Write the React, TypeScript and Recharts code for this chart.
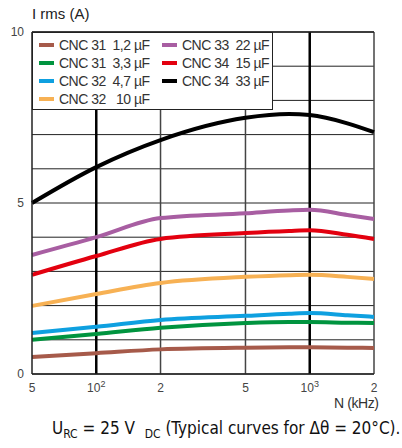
import React from "react";
import {
  LineChart,
  Line,
  XAxis,
  YAxis,
  CartesianGrid,
  ReferenceLine,
} from "recharts";

// frequency in kHz (plotted on a log axis)
const freqs = [50, 100, 200, 500, 800, 1000, 1500, 2000];

const cnc31_1u2 = [0.5, 0.61, 0.72, 0.77, 0.78, 0.78, 0.77, 0.76];
const cnc31_3u3 = [1.0, 1.17, 1.35, 1.49, 1.52, 1.52, 1.5, 1.49];
const cnc32_4u7 = [1.2, 1.38, 1.58, 1.7, 1.76, 1.78, 1.72, 1.67];
const cnc32_10u = [1.99, 2.34, 2.66, 2.84, 2.89, 2.9, 2.84, 2.78];
const cnc33_22u = [3.48, 4.0, 4.56, 4.7, 4.78, 4.8, 4.65, 4.53];
const cnc34_15u = [2.9, 3.45, 3.95, 4.12, 4.18, 4.2, 4.07, 3.95];
const cnc34_33u = [5.0, 6.05, 6.84, 7.49, 7.6, 7.57, 7.33, 7.07];

const xTicks = [50, 100, 200, 500, 1000, 2000];
const xTickLabels = ["5", "10|2", "2", "5", "10|3", "2"];
const yTicks = [0, 1, 2, 3, 4, 5, 6, 7, 8, 9, 10];
const yLabelled = [0, 5, 10];

const series = [
  { key: "a", name: "CNC 31  1,2 µF", values: cnc31_1u2, color: "#a65a4a" },
  { key: "b", name: "CNC 31  3,3 µF", values: cnc31_3u3, color: "#00943f" },
  { key: "c", name: "CNC 32  4,7 µF", values: cnc32_4u7, color: "#0ea0e0" },
  { key: "d", name: "CNC 32   10 µF", values: cnc32_10u, color: "#f7b154" },
  { key: "e", name: "CNC 33  22 µF", values: cnc33_22u, color: "#a85ea2" },
  { key: "f", name: "CNC 34  15 µF", values: cnc34_15u, color: "#e3000f" },
  { key: "g", name: "CNC 34  33 µF", values: cnc34_33u, color: "#000000" },
];

const lg = (v: number) => Math.log10(v);

const data = freqs.map((f, i) => {
  const row: Record<string, number> = { lf: lg(f) };
  series.forEach((s) => (row[s.key] = s.values[i]));
  return row;
});

const FONT = "'Liberation Sans', Arial, sans-serif";

const XTick = (props: any) => {
  const { x, y, index } = props;
  const [base, sup] = xTickLabels[index].split("|");
  return (
    <text x={x} y={y + 10} textAnchor="middle" fontSize={12} fill="#444" fontFamily={FONT}>
      {base}
      {sup && (
        <tspan fontSize={9} dy={-5}>
          {sup}
        </tspan>
      )}
    </text>
  );
};

const LegendBox = () => {
  const item = (s: (typeof series)[number]) => (
    <div key={s.key} style={{ display: "flex", alignItems: "center", height: 18 }}>
      <div style={{ width: 15, height: 4, background: s.color, marginRight: 5 }} />
      <span style={{ whiteSpace: "pre", letterSpacing: -0.5 }}>{s.name}</span>
    </div>
  );
  return (
    <div
      style={{
        position: "absolute",
        left: 32,
        top: 32,
        width: 241,
        height: 78,
        background: "#fff",
        border: "1px solid #222",
        boxSizing: "border-box",
        display: "flex",
        padding: "3px 0 0 6px",
        fontFamily: FONT,
        fontSize: 14,
        color: "#333",
      }}
    >
      <div style={{ width: 123 }}>{series.slice(0, 4).map(item)}</div>
      <div>{series.slice(4).map(item)}</div>
    </div>
  );
};

export default function App() {
  return (
    <div style={{ position: "absolute", left: 0, top: 0, width: 402, height: 448, background: "#fff" }}>
      <div
        style={{
          position: "absolute",
          left: 32,
          top: 5,
          fontFamily: FONT,
          fontSize: 15,
          color: "#222",
        }}
      >
        I rms (A)
      </div>
      <LineChart
        width={402}
        height={448}
        data={data}
        margin={{ top: 32, right: 28, left: 0, bottom: 44 }}
      >
        <CartesianGrid vertical={false} stroke="#222" strokeWidth={1} />
        <XAxis
          dataKey="lf"
          type="number"
          domain={[lg(50), lg(2000)]}
          ticks={xTicks.map(lg)}
          tick={<XTick />}
          tickLine={false}
          axisLine={{ stroke: "#222", strokeWidth: 1.5 }}
          height={30}
          interval={0}
        />
        <YAxis
          type="number"
          domain={[0, 10]}
          ticks={yTicks}
          width={32}
          tickLine={false}
          axisLine={{ stroke: "#222", strokeWidth: 1.5 }}
          interval={0}
          tick={{ fontSize: 12, fill: "#444", fontFamily: FONT }}
          tickFormatter={(v: number) => (yLabelled.includes(v) ? String(v) : "")}
        />
        <ReferenceLine x={lg(100)} stroke="#000" strokeWidth={2.5} />
        <ReferenceLine x={lg(200)} stroke="#444" strokeWidth={1.5} />
        <ReferenceLine x={lg(500)} stroke="#444" strokeWidth={1.5} />
        <ReferenceLine x={lg(1000)} stroke="#000" strokeWidth={2.5} />
        <ReferenceLine x={lg(2000)} stroke="#444" strokeWidth={1.5} />
        <ReferenceLine y={10} stroke="#222" strokeWidth={1.5} />
        {series.map((s) => (
          <Line
            key={s.key}
            dataKey={s.key}
            name={s.name}
            type="monotone"
            stroke={s.color}
            strokeWidth={4}
            dot={false}
            isAnimationActive={false}
          />
        ))}
      </LineChart>
      <LegendBox />
      <div
        style={{
          position: "absolute",
          left: 334,
          top: 395,
          fontFamily: FONT,
          fontSize: 14,
          letterSpacing: -0.4,
          color: "#333",
        }}
      >
        N (kHz)
      </div>
      <div
        style={{
          position: "absolute",
          left: 52,
          top: 418,
          fontFamily: "'DejaVu Sans Condensed', 'DejaVu Sans', sans-serif",
          fontSize: 17,
          color: "#111",
          whiteSpace: "pre",
        }}
      >
        U<sub style={{ fontSize: 12 }}>RC</sub> = 25 V  <sub style={{ fontSize: 12 }}>DC</sub> (Typical curves for Δθ = 20°C).
      </div>
    </div>
  );
}
